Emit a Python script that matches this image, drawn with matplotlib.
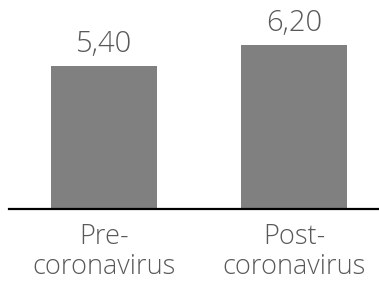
import matplotlib
matplotlib.use("Agg")
import matplotlib.pyplot as plt

categories = ["Pre-\ncoronavirus", "Post-\ncoronavirus"]
values = [5.40, 6.20]
value_labels = ["5,40", "6,20"]

plt.rcParams['font.family'] = ['Open Sans', 'DejaVu Sans']

fig = plt.figure(figsize=(3.79, 2.81), dpi=100)
ax = fig.add_axes([9/379, (281-209)/281, 370/379, 209/281])
x = list(range(len(categories)))
ax.bar(x, values, width=0.558, color="#808080")
ax.set_xlim(-0.5, 1.447)
ax.set_ylim(0, 209/26.5)
for xi, v, lab in zip(x, values, value_labels):
    ax.text(xi, v + 0.25, lab, ha="center", va="bottom", fontsize=21,
            color="#595959", fontweight="light")
ax.set_xticks(x)
ax.set_xticklabels(categories, fontsize=19.5, color="#595959",
                   fontweight="light", linespacing=1.08)
ax.tick_params(axis="x", length=0, pad=10)
ax.set_yticks([])
for s in ["top", "left", "right"]:
    ax.spines[s].set_visible(False)
ax.spines["bottom"].set_linewidth(1.6)
ax.spines["bottom"].set_color("black")
fig.savefig("out.png", dpi=100)
